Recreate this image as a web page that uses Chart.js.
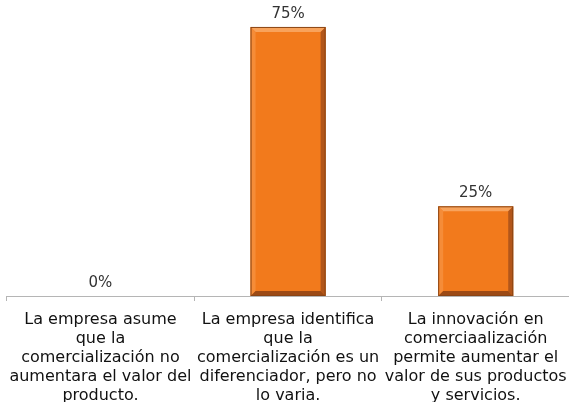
<!DOCTYPE html>
<html>
<head>
<meta charset="utf-8">
<script src="https://cdn.jsdelivr.net/npm/chart.js@4"></script>
<style>
  html, body { margin: 0; padding: 0; background: #fff; overflow: hidden; }
  #wrap { width: 576px; height: 402px; position: relative; }
</style>
</head>
<body>
<div id="wrap"><canvas id="grafico"></canvas></div>
<script>
const categorias = [
  ['La empresa asume', 'que la', 'comercialización no', 'aumentara el valor del', 'producto.'],
  ['La empresa identifica', 'que la', 'comercialización es un', 'diferenciador, pero no', 'lo varia.'],
  ['La innovación en', 'comerciaalización', 'permite aumentar el', 'valor de sus productos', 'y servicios.']
];
const porcentajes = [0, 75, 25];

const naranja = '#F27A1C';

// relieve de las barras (borde claro arriba, oscuro a la derecha y abajo)
const biselBarras = {
  id: 'biselBarras',
  afterDatasetsDraw(chart) {
    const ctx = chart.ctx;
    const meta = chart.getDatasetMeta(0);
    meta.data.forEach((bar, i) => {
      if (porcentajes[i] <= 0) return;
      const l = bar.x - bar.width / 2, r = bar.x + bar.width / 2;
      const t = bar.y, b = bar.base;
      const e = 5;
      ctx.save();
      const cara = (pts, color) => {
        ctx.beginPath();
        ctx.moveTo(pts[0][0], pts[0][1]);
        for (let k = 1; k < pts.length; k++) ctx.lineTo(pts[k][0], pts[k][1]);
        ctx.closePath();
        ctx.fillStyle = color;
        ctx.fill();
      };
      cara([[l, t], [r, t], [r - e, t + e], [l + e, t + e]], '#F8A35C');
      cara([[l, t], [l + e, t + e], [l + e, b - e], [l, b]], '#F58C38');
      cara([[r, t], [r, b], [r - e, b - e], [r - e, t + e]], '#B2561A');
      cara([[l, b], [l + e, b - e], [r - e, b - e], [r, b]], '#9C4A15');
      ctx.strokeStyle = '#8A4414';
      ctx.lineWidth = 1;
      ctx.strokeRect(l + 0.5, t + 0.5, r - l - 1, b - t - 1);
      ctx.restore();
    });
  }
};

// porcentaje encima de cada barra
const etiquetas = {
  id: 'etiquetas',
  afterDatasetsDraw(chart) {
    const ctx = chart.ctx;
    const meta = chart.getDatasetMeta(0);
    ctx.save();
    ctx.font = '15px "DejaVu Sans"';
    ctx.fillStyle = '#333';
    ctx.textAlign = 'center';
    ctx.textBaseline = 'middle';
    meta.data.forEach((bar, i) => {
      ctx.fillText(porcentajes[i] + '%', bar.x, bar.y - 13);
    });
    ctx.restore();
  }
};

new Chart(document.getElementById('grafico'), {
  type: 'bar',
  data: {
    labels: categorias,
    datasets: [{
      data: porcentajes,
      backgroundColor: naranja,
      borderWidth: 0,
      barPercentage: 0.4,
      categoryPercentage: 1
    }]
  },
  options: {
    responsive: true,
    maintainAspectRatio: false,
    animation: false,
    layout: { padding: { left: 6, right: 3, top: 9, bottom: 0 } },
    plugins: {
      legend: { display: false },
      tooltip: { enabled: false }
    },
    scales: {
      y: {
        display: false,
        min: 0,
        max: 80
      },
      x: {
        afterFit(scale) { scale.height = 106; },
        border: { color: '#B5B5B5', width: 1 },
        grid: {
          drawOnChartArea: false,
          drawTicks: true,
          tickLength: 5,
          color: '#B5B5B5'
        },
        ticks: {
          color: '#111',
          font: { family: '"DejaVu Sans"', size: 16, lineHeight: '19px' },
          padding: 9,
          maxRotation: 0,
          autoSkip: false
        }
      }
    }
  },
  plugins: [biselBarras, etiquetas]
});
</script>
</body>
</html>
